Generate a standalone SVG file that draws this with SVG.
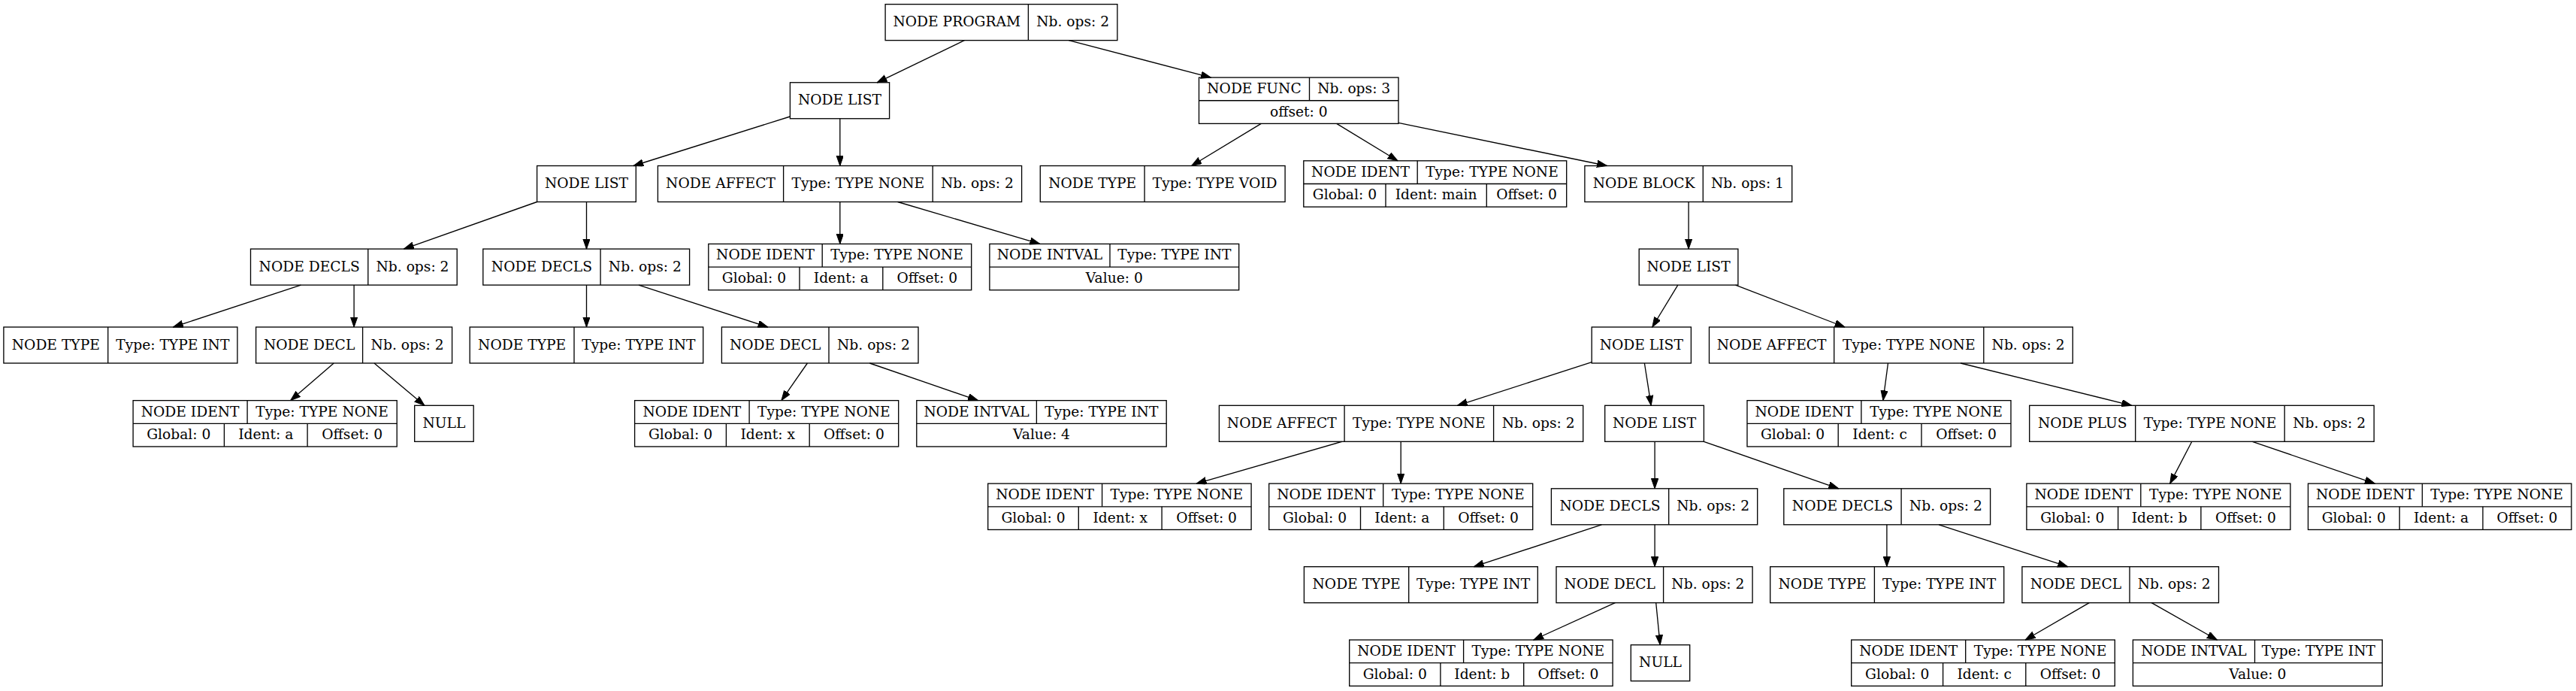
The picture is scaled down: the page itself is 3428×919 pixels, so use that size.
<svg xmlns="http://www.w3.org/2000/svg" width="3428" height="919" viewBox="0 0 3428 919">
<style>
.b{fill:none;stroke:#000;stroke-width:1.33}
.t{font-family:"DejaVu Serif","Liberation Serif",serif;font-size:18.67px;text-anchor:middle;fill:#000}
.e{stroke:#000;stroke-width:1.33;fill:none;marker-end:url(#ah)}
</style>
<defs>
<marker id="ah" markerWidth="14" markerHeight="10" refX="13.33" refY="4.67" orient="auto" markerUnits="userSpaceOnUse"><path d="M0,0 L13.33,4.67 L0,9.33 z" fill="#000" stroke="#000" stroke-width="1"/></marker>
</defs>
<rect width="3428" height="919" fill="#fff"/>

<g id="connectors">
<line class="e" x1="1283.4" y1="53.7" x2="1167.1" y2="109.8"/>
<line class="e" x1="1422.2" y1="53.7" x2="1611.4" y2="103.1"/>
<line class="e" x1="1051.4" y1="155" x2="843" y2="220.5"/>
<line class="e" x1="1117.8" y1="157.8" x2="1117.8" y2="220.5"/>
<line class="e" x1="1678.3" y1="164.4" x2="1585.6" y2="220.5"/>
<line class="e" x1="1778.7" y1="164.4" x2="1859.9" y2="213.8"/>
<line class="e" x1="1861" y1="163.3" x2="2138.5" y2="220.5"/>
<line class="e" x1="714.6" y1="268.5" x2="537.5" y2="331.1"/>
<line class="e" x1="780.5" y1="268.5" x2="780.5" y2="331.1"/>
<line class="e" x1="1117.8" y1="268.5" x2="1117.8" y2="324.4"/>
<line class="e" x1="1194.6" y1="268.5" x2="1383.8" y2="324.4"/>
<line class="e" x1="2247.1" y1="268.5" x2="2247.1" y2="331.1"/>
<line class="e" x1="400.4" y1="379.1" x2="230.4" y2="435"/>
<line class="e" x1="471.1" y1="379.1" x2="471.1" y2="435"/>
<line class="e" x1="780.5" y1="379.1" x2="780.5" y2="435"/>
<line class="e" x1="850" y1="379.1" x2="1021.8" y2="435"/>
<line class="e" x1="2232.8" y1="379.1" x2="2198.8" y2="435"/>
<line class="e" x1="2309.6" y1="379.1" x2="2454.9" y2="435"/>
<line class="e" x1="444.2" y1="483" x2="386.7" y2="532.6"/>
<line class="e" x1="498" y1="483" x2="564.9" y2="539.3"/>
<line class="e" x1="1074.4" y1="483" x2="1039.9" y2="532.6"/>
<line class="e" x1="1157.3" y1="483" x2="1301.5" y2="532.6"/>
<line class="e" x1="2118.2" y1="481.7" x2="1939.4" y2="539.3"/>
<line class="e" x1="2188.4" y1="483" x2="2197.2" y2="539.3"/>
<line class="e" x1="2512.5" y1="483" x2="2505.9" y2="532.6"/>
<line class="e" x1="2609.1" y1="483" x2="2836.7" y2="539.3"/>
<line class="e" x1="1785.8" y1="587.3" x2="1592.2" y2="643.1"/>
<line class="e" x1="1864.2" y1="587.3" x2="1864.2" y2="643.1"/>
<line class="e" x1="2202.1" y1="587.3" x2="2202.1" y2="649.8"/>
<line class="e" x1="2267.4" y1="587.3" x2="2446.7" y2="649.8"/>
<line class="e" x1="2916.8" y1="587.3" x2="2887.7" y2="643.1"/>
<line class="e" x1="2997.4" y1="587.3" x2="3160.3" y2="643.1"/>
<line class="e" x1="2131.3" y1="697.8" x2="1961.3" y2="753.7"/>
<line class="e" x1="2202.1" y1="697.8" x2="2202.1" y2="753.7"/>
<line class="e" x1="2510.9" y1="697.8" x2="2510.9" y2="753.7"/>
<line class="e" x1="2580.1" y1="697.8" x2="2751.7" y2="753.7"/>
<line class="e" x1="2149.4" y1="801.7" x2="2040.8" y2="851"/>
<line class="e" x1="2203.7" y1="801.7" x2="2209.2" y2="857.7"/>
<line class="e" x1="2780.3" y1="801.7" x2="2695.2" y2="851"/>
<line class="e" x1="2863.1" y1="801.7" x2="2950.3" y2="851"/>
</g>

<!-- Rank A -->
<g id="n_program">
<rect class="b" x="1178.1" y="5.67" width="308.8" height="48"/>
<line class="b" x1="1368.4" y1="5.67" x2="1368.4" y2="53.67"/>
<text class="t" x="1273.25" y="35.27">NODE PROGRAM</text>
<text class="t" x="1427.65" y="35.27">Nb. ops: 2</text>
</g>

<!-- Rank B -->
<g id="n_list1">
<rect class="b" x="1051.4" y="109.75" width="132.2" height="48"/>
<text class="t" x="1117.5" y="139.35">NODE LIST</text>
</g>
<g id="n_func">
<rect class="b" x="1595.5" y="103.08" width="265.5" height="61.33"/>
<line class="b" x1="1595.5" y1="133.75" x2="1861" y2="133.75"/>
<line class="b" x1="1742.5" y1="103.08" x2="1742.5" y2="133.75"/>
<text class="t" x="1669" y="124.02">NODE FUNC</text>
<text class="t" x="1801.75" y="124.02">Nb. ops: 3</text>
<text class="t" x="1728.25" y="154.68">offset: 0</text>
</g>

<!-- Rank C -->
<g id="n_list2">
<rect class="b" x="714.6" y="220.5" width="131.7" height="48"/>
<text class="t" x="780.45" y="250.1">NODE LIST</text>
</g>
<g id="n_affect1">
<rect class="b" x="875.4" y="220.5" width="484.2" height="48"/>
<line class="b" x1="1042.6" y1="220.5" x2="1042.6" y2="268.5"/>
<line class="b" x1="1241.2" y1="220.5" x2="1241.2" y2="268.5"/>
<text class="t" x="959" y="250.1">NODE AFFECT</text>
<text class="t" x="1141.9" y="250.1">Type: TYPE NONE</text>
<text class="t" x="1300.4" y="250.1">Nb. ops: 2</text>
</g>
<g id="n_type_void">
<rect class="b" x="1384.3" y="220.5" width="325.8" height="48"/>
<line class="b" x1="1523.1" y1="220.5" x2="1523.1" y2="268.5"/>
<text class="t" x="1453.7" y="250.1">NODE TYPE</text>
<text class="t" x="1616.6" y="250.1">Type: TYPE VOID</text>
</g>
<g id="n_ident_main">
<rect class="b" x="1734.8" y="213.83" width="349.9" height="61.33"/>
<line class="b" x1="1734.8" y1="244.5" x2="2084.7" y2="244.5"/>
<line class="b" x1="1886.2" y1="213.83" x2="1886.2" y2="244.5"/>
<line class="b" x1="1844" y1="244.5" x2="1844" y2="275.16"/>
<line class="b" x1="1978.3" y1="244.5" x2="1978.3" y2="275.16"/>
<text class="t" x="1810.5" y="234.77">NODE IDENT</text>
<text class="t" x="1985.45" y="234.77">Type: TYPE NONE</text>
<text class="t" x="1789.4" y="265.43">Global: 0</text>
<text class="t" x="1911.15" y="265.43">Ident: main</text>
<text class="t" x="2031.5" y="265.43">Offset: 0</text>
</g>
<g id="n_block">
<rect class="b" x="2108.9" y="220.5" width="275.8" height="48"/>
<line class="b" x1="2266.3" y1="220.5" x2="2266.3" y2="268.5"/>
<text class="t" x="2187.6" y="250.1">NODE BLOCK</text>
<text class="t" x="2325.5" y="250.1">Nb. ops: 1</text>
</g>

<!-- Rank D -->
<g id="n_decls1">
<rect class="b" x="333.5" y="331.1" width="274.7" height="48"/>
<line class="b" x1="489.8" y1="331.1" x2="489.8" y2="379.1"/>
<text class="t" x="411.65" y="360.7">NODE DECLS</text>
<text class="t" x="549" y="360.7">Nb. ops: 2</text>
</g>
<g id="n_decls2">
<rect class="b" x="642.8" y="331.1" width="274.8" height="48"/>
<line class="b" x1="799.1" y1="331.1" x2="799.1" y2="379.1"/>
<text class="t" x="720.95" y="360.7">NODE DECLS</text>
<text class="t" x="858.35" y="360.7">Nb. ops: 2</text>
</g>
<g id="n_ident_a1">
<rect class="b" x="942.8" y="324.43" width="349.9" height="61.33"/>
<line class="b" x1="942.8" y1="355.1" x2="1292.7" y2="355.1"/>
<line class="b" x1="1094.2" y1="324.43" x2="1094.2" y2="355.1"/>
<line class="b" x1="1064" y1="355.1" x2="1064" y2="385.76"/>
<line class="b" x1="1174.8" y1="355.1" x2="1174.8" y2="385.76"/>
<text class="t" x="1018.5" y="345.37">NODE IDENT</text>
<text class="t" x="1193.45" y="345.37">Type: TYPE NONE</text>
<text class="t" x="1003.4" y="376.03">Global: 0</text>
<text class="t" x="1119.4" y="376.03">Ident: a</text>
<text class="t" x="1233.75" y="376.03">Offset: 0</text>
</g>
<g id="n_intval0">
<rect class="b" x="1316.9" y="324.43" width="331.8" height="61.33"/>
<line class="b" x1="1316.9" y1="355.1" x2="1648.7" y2="355.1"/>
<line class="b" x1="1477" y1="324.43" x2="1477" y2="355.1"/>
<text class="t" x="1396.95" y="345.37">NODE INTVAL</text>
<text class="t" x="1562.85" y="345.37">Type: TYPE INT</text>
<text class="t" x="1482.8" y="376.03">Value: 0</text>
</g>
<g id="n_list3">
<rect class="b" x="2181.2" y="331.1" width="131.7" height="48"/>
<text class="t" x="2247.05" y="360.7">NODE LIST</text>
</g>

<!-- Rank E -->
<g id="n_type1">
<rect class="b" x="4.9" y="435" width="311" height="48"/>
<line class="b" x1="143.7" y1="435" x2="143.7" y2="483"/>
<text class="t" x="74.3" y="464.6">NODE TYPE</text>
<text class="t" x="229.8" y="464.6">Type: TYPE INT</text>
</g>
<g id="n_decl1">
<rect class="b" x="340.6" y="435" width="261" height="48"/>
<line class="b" x1="482.6" y1="435" x2="482.6" y2="483"/>
<text class="t" x="411.6" y="464.6">NODE DECL</text>
<text class="t" x="542.1" y="464.6">Nb. ops: 2</text>
</g>
<g id="n_type2">
<rect class="b" x="625.2" y="435" width="310.5" height="48"/>
<line class="b" x1="764" y1="435" x2="764" y2="483"/>
<text class="t" x="694.6" y="464.6">NODE TYPE</text>
<text class="t" x="849.85" y="464.6">Type: TYPE INT</text>
</g>
<g id="n_decl2">
<rect class="b" x="960.4" y="435" width="261.6" height="48"/>
<line class="b" x1="1103" y1="435" x2="1103" y2="483"/>
<text class="t" x="1031.7" y="464.6">NODE DECL</text>
<text class="t" x="1162.5" y="464.6">Nb. ops: 2</text>
</g>
<g id="n_list4">
<rect class="b" x="2118.2" y="435" width="132.2" height="48"/>
<text class="t" x="2184.3" y="464.6">NODE LIST</text>
</g>
<g id="n_affect2">
<rect class="b" x="2274.5" y="435" width="483.8" height="48"/>
<line class="b" x1="2440.7" y1="435" x2="2440.7" y2="483"/>
<line class="b" x1="2639.8" y1="435" x2="2639.8" y2="483"/>
<text class="t" x="2357.6" y="464.6">NODE AFFECT</text>
<text class="t" x="2540.25" y="464.6">Type: TYPE NONE</text>
<text class="t" x="2699.05" y="464.6">Nb. ops: 2</text>
</g>

<!-- Rank F -->
<g id="n_ident_a2">
<rect class="b" x="177.1" y="532.63" width="351.1" height="61.33"/>
<line class="b" x1="177.1" y1="563.3" x2="528.2" y2="563.3"/>
<line class="b" x1="329.1" y1="532.63" x2="329.1" y2="563.3"/>
<line class="b" x1="298.4" y1="563.3" x2="298.4" y2="593.96"/>
<line class="b" x1="409.1" y1="563.3" x2="409.1" y2="593.96"/>
<text class="t" x="253.1" y="553.57">NODE IDENT</text>
<text class="t" x="428.65" y="553.57">Type: TYPE NONE</text>
<text class="t" x="237.75" y="584.23">Global: 0</text>
<text class="t" x="353.75" y="584.23">Ident: a</text>
<text class="t" x="468.65" y="584.23">Offset: 0</text>
</g>
<g id="n_null1">
<rect class="b" x="551.7" y="539.3" width="78.5" height="48"/>
<text class="t" x="590.95" y="568.9">NULL</text>
</g>
<g id="n_ident_x1">
<rect class="b" x="844.6" y="532.63" width="351.1" height="61.33"/>
<line class="b" x1="844.6" y1="563.3" x2="1195.7" y2="563.3"/>
<line class="b" x1="997.1" y1="532.63" x2="997.1" y2="563.3"/>
<line class="b" x1="966.4" y1="563.3" x2="966.4" y2="593.96"/>
<line class="b" x1="1077.2" y1="563.3" x2="1077.2" y2="593.96"/>
<text class="t" x="920.85" y="553.57">NODE IDENT</text>
<text class="t" x="1096.4" y="553.57">Type: TYPE NONE</text>
<text class="t" x="905.5" y="584.23">Global: 0</text>
<text class="t" x="1021.8" y="584.23">Ident: x</text>
<text class="t" x="1136.45" y="584.23">Offset: 0</text>
</g>
<g id="n_intval4">
<rect class="b" x="1219.8" y="532.63" width="332.4" height="61.33"/>
<line class="b" x1="1219.8" y1="563.3" x2="1552.2" y2="563.3"/>
<line class="b" x1="1379.4" y1="532.63" x2="1379.4" y2="563.3"/>
<text class="t" x="1299.6" y="553.57">NODE INTVAL</text>
<text class="t" x="1465.8" y="553.57">Type: TYPE INT</text>
<text class="t" x="1386" y="584.23">Value: 4</text>
</g>
<g id="n_affect3">
<rect class="b" x="1622.4" y="539.3" width="484.3" height="48"/>
<line class="b" x1="1789.1" y1="539.3" x2="1789.1" y2="587.3"/>
<line class="b" x1="1987.6" y1="539.3" x2="1987.6" y2="587.3"/>
<text class="t" x="1705.75" y="568.9">NODE AFFECT</text>
<text class="t" x="1888.35" y="568.9">Type: TYPE NONE</text>
<text class="t" x="2047.15" y="568.9">Nb. ops: 2</text>
</g>
<g id="n_list5">
<rect class="b" x="2135.7" y="539.3" width="131.7" height="48"/>
<text class="t" x="2201.55" y="568.9">NODE LIST</text>
</g>
<g id="n_ident_c1">
<rect class="b" x="2325" y="532.63" width="351" height="61.33"/>
<line class="b" x1="2325" y1="563.3" x2="2676" y2="563.3"/>
<line class="b" x1="2476.9" y1="532.63" x2="2476.9" y2="563.3"/>
<line class="b" x1="2446.2" y1="563.3" x2="2446.2" y2="593.96"/>
<line class="b" x1="2557" y1="563.3" x2="2557" y2="593.96"/>
<text class="t" x="2400.95" y="553.57">NODE IDENT</text>
<text class="t" x="2576.45" y="553.57">Type: TYPE NONE</text>
<text class="t" x="2385.6" y="584.23">Global: 0</text>
<text class="t" x="2501.6" y="584.23">Ident: c</text>
<text class="t" x="2616.5" y="584.23">Offset: 0</text>
</g>
<g id="n_plus">
<rect class="b" x="2700.7" y="539.3" width="458.5" height="48"/>
<line class="b" x1="2841.7" y1="539.3" x2="2841.7" y2="587.3"/>
<line class="b" x1="3040.2" y1="539.3" x2="3040.2" y2="587.3"/>
<text class="t" x="2771.2" y="568.9">NODE PLUS</text>
<text class="t" x="2940.95" y="568.9">Type: TYPE NONE</text>
<text class="t" x="3099.7" y="568.9">Nb. ops: 2</text>
</g>

<!-- Rank G -->
<g id="n_ident_x2">
<rect class="b" x="1314.7" y="643.13" width="350.4" height="61.33"/>
<line class="b" x1="1314.7" y1="673.8" x2="1665.1" y2="673.8"/>
<line class="b" x1="1466.6" y1="643.13" x2="1466.6" y2="673.8"/>
<line class="b" x1="1435.3" y1="673.8" x2="1435.3" y2="704.46"/>
<line class="b" x1="1546.1" y1="673.8" x2="1546.1" y2="704.46"/>
<text class="t" x="1390.65" y="664.07">NODE IDENT</text>
<text class="t" x="1565.85" y="664.07">Type: TYPE NONE</text>
<text class="t" x="1375" y="694.73">Global: 0</text>
<text class="t" x="1490.7" y="694.73">Ident: x</text>
<text class="t" x="1605.6" y="694.73">Offset: 0</text>
</g>
<g id="n_ident_a3">
<rect class="b" x="1688.7" y="643.13" width="351" height="61.33"/>
<line class="b" x1="1688.7" y1="673.8" x2="2039.7" y2="673.8"/>
<line class="b" x1="1840.7" y1="643.13" x2="1840.7" y2="673.8"/>
<line class="b" x1="1810.5" y1="673.8" x2="1810.5" y2="704.46"/>
<line class="b" x1="1921.3" y1="673.8" x2="1921.3" y2="704.46"/>
<text class="t" x="1764.7" y="664.07">NODE IDENT</text>
<text class="t" x="1940.2" y="664.07">Type: TYPE NONE</text>
<text class="t" x="1749.6" y="694.73">Global: 0</text>
<text class="t" x="1865.9" y="694.73">Ident: a</text>
<text class="t" x="1980.5" y="694.73">Offset: 0</text>
</g>
<g id="n_decls3">
<rect class="b" x="2064.4" y="649.8" width="274.3" height="48"/>
<line class="b" x1="2220.7" y1="649.8" x2="2220.7" y2="697.8"/>
<text class="t" x="2142.55" y="679.4">NODE DECLS</text>
<text class="t" x="2279.7" y="679.4">Nb. ops: 2</text>
</g>
<g id="n_decls4">
<rect class="b" x="2373.8" y="649.8" width="274.8" height="48"/>
<line class="b" x1="2530.1" y1="649.8" x2="2530.1" y2="697.8"/>
<text class="t" x="2451.95" y="679.4">NODE DECLS</text>
<text class="t" x="2589.35" y="679.4">Nb. ops: 2</text>
</g>
<g id="n_ident_b1">
<rect class="b" x="2696.9" y="643.13" width="351" height="61.33"/>
<line class="b" x1="2696.9" y1="673.8" x2="3047.9" y2="673.8"/>
<line class="b" x1="2848.8" y1="643.13" x2="2848.8" y2="673.8"/>
<line class="b" x1="2818.6" y1="673.8" x2="2818.6" y2="704.46"/>
<line class="b" x1="2928.9" y1="673.8" x2="2928.9" y2="704.46"/>
<text class="t" x="2772.85" y="664.07">NODE IDENT</text>
<text class="t" x="2948.35" y="664.07">Type: TYPE NONE</text>
<text class="t" x="2757.75" y="694.73">Global: 0</text>
<text class="t" x="2873.75" y="694.73">Ident: b</text>
<text class="t" x="2988.4" y="694.73">Offset: 0</text>
</g>
<g id="n_ident_a4">
<rect class="b" x="3071.5" y="643.13" width="350.4" height="61.33"/>
<line class="b" x1="3071.5" y1="673.8" x2="3421.9" y2="673.8"/>
<line class="b" x1="3223.4" y1="643.13" x2="3223.4" y2="673.8"/>
<line class="b" x1="3193.2" y1="673.8" x2="3193.2" y2="704.46"/>
<line class="b" x1="3304" y1="673.8" x2="3304" y2="704.46"/>
<text class="t" x="3147.45" y="664.07">NODE IDENT</text>
<text class="t" x="3322.65" y="664.07">Type: TYPE NONE</text>
<text class="t" x="3132.35" y="694.73">Global: 0</text>
<text class="t" x="3248.6" y="694.73">Ident: a</text>
<text class="t" x="3362.95" y="694.73">Offset: 0</text>
</g>

<!-- Rank H -->
<g id="n_type3">
<rect class="b" x="1735.4" y="753.7" width="310.9" height="48"/>
<line class="b" x1="1874.7" y1="753.7" x2="1874.7" y2="801.7"/>
<text class="t" x="1805.05" y="783.3">NODE TYPE</text>
<text class="t" x="1960.5" y="783.3">Type: TYPE INT</text>
</g>
<g id="n_decl3">
<rect class="b" x="2071" y="753.7" width="261.1" height="48"/>
<line class="b" x1="2213.6" y1="753.7" x2="2213.6" y2="801.7"/>
<text class="t" x="2142.3" y="783.3">NODE DECL</text>
<text class="t" x="2272.85" y="783.3">Nb. ops: 2</text>
</g>
<g id="n_type4">
<rect class="b" x="2355.7" y="753.7" width="311" height="48"/>
<line class="b" x1="2494.4" y1="753.7" x2="2494.4" y2="801.7"/>
<text class="t" x="2425.05" y="783.3">NODE TYPE</text>
<text class="t" x="2580.55" y="783.3">Type: TYPE INT</text>
</g>
<g id="n_decl4">
<rect class="b" x="2690.9" y="753.7" width="261.6" height="48"/>
<line class="b" x1="2834" y1="753.7" x2="2834" y2="801.7"/>
<text class="t" x="2762.45" y="783.3">NODE DECL</text>
<text class="t" x="2893.25" y="783.3">Nb. ops: 2</text>
</g>

<!-- Rank I -->
<g id="n_ident_b2">
<rect class="b" x="1795.7" y="851.03" width="350.4" height="61.33"/>
<line class="b" x1="1795.7" y1="881.7" x2="2146.1" y2="881.7"/>
<line class="b" x1="1947.6" y1="851.03" x2="1947.6" y2="881.7"/>
<line class="b" x1="1916.9" y1="881.7" x2="1916.9" y2="912.36"/>
<line class="b" x1="2027.7" y1="881.7" x2="2027.7" y2="912.36"/>
<text class="t" x="1871.65" y="871.97">NODE IDENT</text>
<text class="t" x="2046.85" y="871.97">Type: TYPE NONE</text>
<text class="t" x="1856.3" y="902.63">Global: 0</text>
<text class="t" x="1972.3" y="902.63">Ident: b</text>
<text class="t" x="2086.9" y="902.63">Offset: 0</text>
</g>
<g id="n_null2">
<rect class="b" x="2170.3" y="857.7" width="78.4" height="48"/>
<text class="t" x="2209.5" y="887.3">NULL</text>
</g>
<g id="n_ident_c2">
<rect class="b" x="2463.7" y="851.03" width="350.6" height="61.33"/>
<line class="b" x1="2463.7" y1="881.7" x2="2814.3" y2="881.7"/>
<line class="b" x1="2615.7" y1="851.03" x2="2615.7" y2="881.7"/>
<line class="b" x1="2585.6" y1="881.7" x2="2585.6" y2="912.36"/>
<line class="b" x1="2695.8" y1="881.7" x2="2695.8" y2="912.36"/>
<text class="t" x="2539.7" y="871.97">NODE IDENT</text>
<text class="t" x="2715" y="871.97">Type: TYPE NONE</text>
<text class="t" x="2524.65" y="902.63">Global: 0</text>
<text class="t" x="2640.7" y="902.63">Ident: c</text>
<text class="t" x="2755.05" y="902.63">Offset: 0</text>
</g>
<g id="n_intval0b">
<rect class="b" x="2838.4" y="851.03" width="331.8" height="61.33"/>
<line class="b" x1="2838.4" y1="881.7" x2="3170.2" y2="881.7"/>
<line class="b" x1="3000.5" y1="851.03" x2="3000.5" y2="881.7"/>
<text class="t" x="2919.45" y="871.97">NODE INTVAL</text>
<text class="t" x="3085.35" y="871.97">Type: TYPE INT</text>
<text class="t" x="3004.3" y="902.63">Value: 0</text>
</g>
</svg>
